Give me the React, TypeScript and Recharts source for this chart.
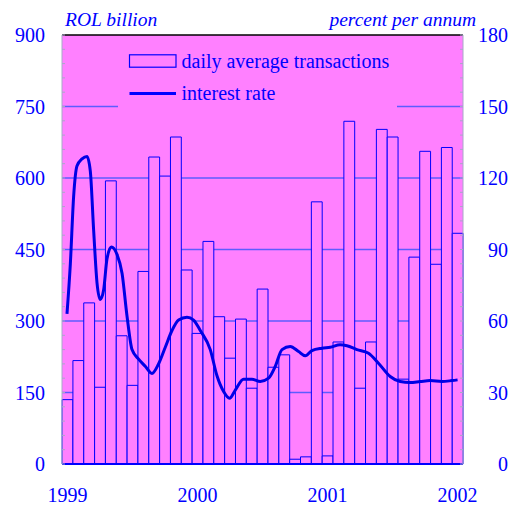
import { ComposedChart, Bar, Line, XAxis, YAxis, CartesianGrid, ReferenceLine, Legend, Rectangle } from 'recharts'

const PINK = '#ff80ff'
const BLUE = '#0000ff'
const GRID = '#5c5cff'
const FRAME = '#a8a8c8'
const FONT = "'Liberation Serif', 'Times New Roman', Times, 'DejaVu Serif', serif"

// monthly categories, Jan 1999 .. Jan 2002
const months = [
  '1999-01', '1999-02', '1999-03', '1999-04', '1999-05', '1999-06', '1999-07', '1999-08', '1999-09', '1999-10', '1999-11', '1999-12',
  '2000-01', '2000-02', '2000-03', '2000-04', '2000-05', '2000-06', '2000-07', '2000-08', '2000-09', '2000-10', '2000-11', '2000-12',
  '2001-01', '2001-02', '2001-03', '2001-04', '2001-05', '2001-06', '2001-07', '2001-08', '2001-09', '2001-10', '2001-11', '2001-12',
  '2002-01',
]

// daily average transactions, ROL billion
const transactions = [
  135, 217, 338, 161, 594, 269, 165, 404, 644, 604, 686, 407,
  274, 467, 309, 222, 304, 159, 367, 203, 229, 10, 15, 550,
  17, 256, 719, 159, 256, 702, 686, 178, 434, 656, 419, 664,
  484,
]

// interest rate, percent p.a. (t in months from start of Jan 1999)
const rateT = [
  0.46, 0.77, 1.07, 1.38, 1.85, 2.31, 2.61, 2.92, 3.23, 3.53, 3.84, 4.15, 4.55, 5.07, 5.54, 6.0,
  6.46, 7.07, 7.68, 8.3, 8.91, 9.53, 10.15, 10.76, 11.53, 12.14, 12.76, 13.68, 14.3, 14.91, 15.46,
  15.99, 16.75, 17.53, 18.29, 19.06, 19.68, 20.3, 21.06, 21.83, 22.45, 23.06, 23.99, 24.75, 25.66,
  26.29, 27.21, 28.28, 29.2, 30.28, 31.2, 32.12, 33.04, 33.97, 35.05, 35.98, 36.5,
]
const rateV = [
  63, 84, 112, 125, 128, 129, 123, 98, 76, 69, 73, 86, 91, 88, 80, 62,
  48, 44, 41, 38, 42, 49, 56, 60.4, 61.6, 60.4, 56, 48, 37, 30.4, 27.6,
  31, 35.6, 35.6, 34.6, 36, 41, 48, 49.3, 47.2, 45.4, 47.6, 48.6, 49, 50,
  49.6, 48, 46.5, 42.3, 36.7, 34.6, 34.2, 34.6, 35, 34.6, 35, 35.3,
]

const yearTicks = ['1999-01', '2000-01', '2001-01', '2002-01']
const amtLabels = [0, 150, 300, 450, 600, 750, 900]
const rateLabels = [0, 30, 60, 90, 120, 150, 180]
const amtTicks = Array.from({ length: 31 }, (_, i) => i * 30)
const rateTicks = Array.from({ length: 31 }, (_, i) => i * 6)

const barData = months.map((month, i) => ({ month, value: transactions[i] }))
const rateData = rateT.map((t, i) => ({ t, rate: rateV[i] }))

const PLOT_W = 401
const BAR_W = PLOT_W / months.length

function AmtTick({ x, y, payload }: any) {
  const v = payload.value
  return (
    <g>
      <line x1={x + 17} x2={x + 20} y1={y} y2={y} stroke={FRAME} />
      {amtLabels.includes(v) && (
        <text x={x} y={y} dy={7} textAnchor="end" fill={BLUE} fontSize={20} fontFamily={FONT}>{v}</text>
      )}
    </g>
  )
}

function RateTick({ x, y, payload }: any) {
  const v = payload.value
  return (
    <g>
      <line x1={x - 45} x2={x - 48} y1={y} y2={y} stroke={FRAME} />
      {rateLabels.includes(v) && (
        <text x={x} y={y} dy={7} textAnchor="end" fill={BLUE} fontSize={20} fontFamily={FONT}>{v}</text>
      )}
    </g>
  )
}

// bars fill the whole month band, no gaps between neighbours
function MonthBar(props: any) {
  const { x, y, width, height } = props
  const left = x + width / 2 - BAR_W / 2
  return <Rectangle x={left} y={y} width={BAR_W} height={height} fill={PINK} stroke={BLUE} strokeWidth={1} />
}

function renderLegend({ payload }: any) {
  const items = [...(payload || [])].sort((a, b) => (a.type === 'rect' ? -1 : 1) - (b.type === 'rect' ? -1 : 1))
  return (
    <svg width={279} height={78} style={{ display: 'block' }}>
      {items.map((item: any, i: number) => {
        const cy = 25 + i * 32.5
        return (
          <g key={item.value}>
            {item.type === 'rect' ? (
              <rect x={11.5} y={cy - 6.2} width={46.5} height={12.4} fill={PINK} stroke={BLUE} strokeWidth={1.2} />
            ) : (
              <line x1={11.5} x2={58} y1={cy} y2={cy} stroke={BLUE} strokeWidth={3} />
            )}
            <text x={63.5} y={cy + 6.5} fill={BLUE} fontSize={20} fontFamily={FONT}>{item.value}</text>
          </g>
        )
      })}
    </svg>
  )
}

export default function App() {
  return (
    <div style={{ position: 'absolute', left: 0, top: 0, background: '#fff', fontFamily: FONT }}>
      <ComposedChart width={522} height={505} data={barData} margin={{ top: 35, right: 0, bottom: 0, left: 0 }} barCategoryGap={0} barGap={0}>
        <CartesianGrid xAxisId="cat" yAxisId="amt" vertical={false} horizontalValues={[150, 300, 450, 600, 750]} stroke={GRID} strokeWidth={1.5} fill={PINK} />
        <XAxis
          xAxisId="cat"
          dataKey="month"
          ticks={yearTicks}
          interval={0}
          tickFormatter={(m: string) => m.slice(0, 4)}
          axisLine={{ stroke: BLUE, strokeWidth: 2 }}
          tickLine={false}
          tickSize={0}
          tickMargin={24}
          height={41}
          tick={{ fill: BLUE, fontSize: 20, fontFamily: FONT }}
        />
        <XAxis xAxisId="t" type="number" dataKey="t" domain={[0, 37]} allowDataOverflow hide />
        <YAxis
          yAxisId="amt"
          orientation="left"
          domain={[0, 900]}
          ticks={amtTicks}
          interval={0}
          width={62}
          axisLine={{ stroke: FRAME }}
          tickLine={false}
          tickSize={0}
          tickMargin={17}
          tick={<AmtTick />}
          label={(p: any) => (
            <text x={p.viewBox.x + p.viewBox.width + 3} y={p.viewBox.y - 9} fill={BLUE} fontSize={19.5} fontStyle="italic" fontFamily={FONT}>ROL billion</text>
          )}
        />
        <YAxis
          yAxisId="rate"
          orientation="right"
          domain={[0, 180]}
          ticks={rateTicks}
          interval={0}
          width={59}
          axisLine={{ stroke: FRAME }}
          tickLine={false}
          tickSize={0}
          tickMargin={45}
          tick={<RateTick />}
          label={(p: any) => (
            <text x={p.viewBox.x + 13} y={p.viewBox.y - 9} textAnchor="end" fill={BLUE} fontSize={19.5} fontStyle="italic" fontFamily={FONT}>percent per annum</text>
          )}
        />
        <Bar
          xAxisId="cat"
          yAxisId="amt"
          dataKey="value"
          name="daily average transactions"
          fill={PINK}
          stroke={BLUE}
          strokeWidth={1}
          shape={<MonthBar />}
          isAnimationActive={false}
        />
        <Line
          xAxisId="t"
          yAxisId="rate"
          data={rateData}
          dataKey="rate"
          name="interest rate"
          type="monotone"
          stroke="#0000e6"
          strokeWidth={3}
          dot={false}
          activeDot={false}
          isAnimationActive={false}
        />
        <ReferenceLine xAxisId="cat" yAxisId="amt" y={900} stroke="#000" strokeWidth={1.5} />
        <Legend
          layout="vertical"
          align="center"
          verticalAlign="middle"
          content={renderLegend}
          wrapperStyle={{ left: 118, top: 36, width: 279, height: 78, background: PINK }}
        />
      </ComposedChart>
    </div>
  )
}
